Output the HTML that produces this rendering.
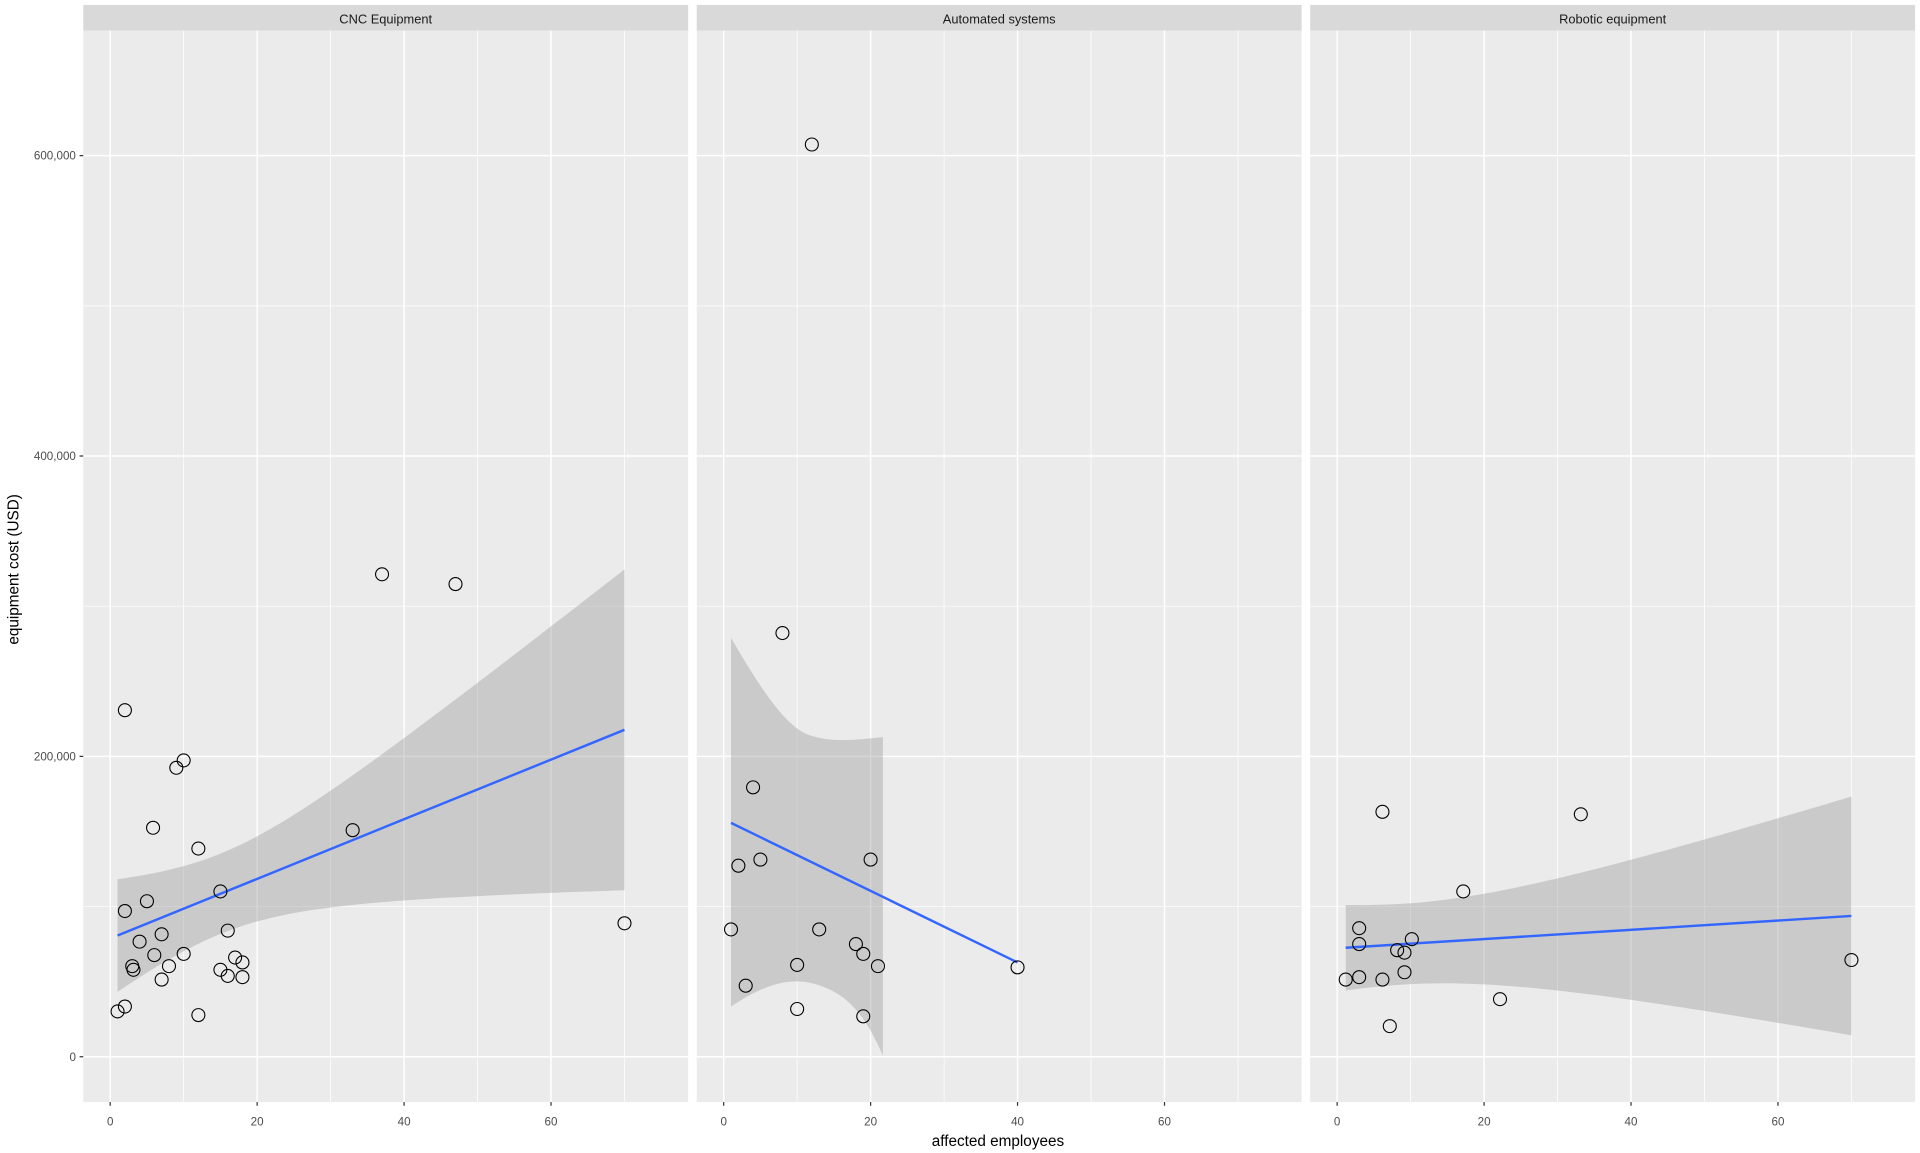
<!DOCTYPE html>
<html><head><meta charset="utf-8"><style>html,body{margin:0;padding:0;background:#fff}svg{display:block}</style></head>
<body>
<svg id="s" width="1920" height="1153" viewBox="0 0 1568 941.6" xmlns="http://www.w3.org/2000/svg" font-family="Liberation Sans, Arial, sans-serif"></svg>
<script>
const s=document.getElementById('s');let h='';
const panels=[68,569,1070],W=494;
const Y=v=>863-v/200000*245.3;
panels.forEach((px,i)=>{
 h+=`<rect x="${px}" y="25" width="${W}" height="875" fill="#EBEBEB"/>`;
 h+=`<rect x="${px}" y="4" width="${W}" height="21" fill="#D9D9D9"/>`;
 const x0=px+22;
 for(const v of [100000,300000,500000]) h+=`<line x1="${px}" x2="${px+W}" y1="${Y(v)}" y2="${Y(v)}" stroke="#fff" stroke-width="0.6"/>`;
 for(const u of [10,30,50,70]) h+=`<line x1="${x0+u*6}" x2="${x0+u*6}" y1="25" y2="900" stroke="#fff" stroke-width="0.6"/>`;
 for(const v of [0,200000,400000,600000]) h+=`<line x1="${px}" x2="${px+W}" y1="${Y(v)}" y2="${Y(v)}" stroke="#fff" stroke-width="1.2"/>`;
 for(const u of [0,20,40,60]){h+=`<line x1="${x0+u*6}" x2="${x0+u*6}" y1="25" y2="900" stroke="#fff" stroke-width="1.2"/>`;
  h+=`<line x1="${x0+u*6}" x2="${x0+u*6}" y1="900" y2="903" stroke="#333" stroke-width="1"/>`;
  h+=`<text x="${x0+u*6}" y="919" font-size="9.5" fill="#4D4D4D" text-anchor="middle">${u}</text>`;}
});
[0,200000,400000,600000].forEach(v=>{h+=`<line x1="65" x2="68" y1="${Y(v)}" y2="${Y(v)}" stroke="#333"/>`;
 h+=`<text x="62" y="${Y(v)+3.3}" font-size="9.5" fill="#4D4D4D" text-anchor="end">${v.toLocaleString('en-US')}</text>`;});
const titles=['CNC Equipment','Automated systems','Robotic equipment'];
panels.forEach((px,i)=>h+=`<text x="${px+W/2}" y="19" font-size="10.5" fill="#1A1A1A" text-anchor="middle">${titles[i]}</text>`);
h+=`<text x="815" y="936" font-size="12.5" fill="#000" text-anchor="middle">affected employees</text>`;
h+=`<text transform="translate(15,465) rotate(-90)" font-size="12.5" fill="#000" text-anchor="middle">equipment cost (USD)</text>`;
function band(xa,ya,xb,yb,xm,h0,k){let up=[],lo=[];for(let x=xa;x<=xb+0.01;x+=(xb-xa)/60){const c=ya+(yb-ya)*(x-xa)/(xb-xa);const hw=Math.sqrt(h0*h0+k*(x-xm)**2);up.push(`${x.toFixed(1)},${(c-hw).toFixed(1)}`);lo.unshift(`${x.toFixed(1)},${(c+hw).toFixed(1)}`);}
 return `<polygon points="${up.concat(lo).join(' ')}" fill="#999" fill-opacity="0.4"/><line x1="${xa}" y1="${ya}" x2="${xb}" y2="${yb}" stroke="#3366FF" stroke-width="2"/>`;}
h+=band(96,764,510,596,180,32.8,0.1477);
h+=`<path d="M597,521 C620,560 640,592 660,600 C680,607 700,604 721,602 L721,862 C705,825 690,812 670,805 C650,798 630,800 597,822 Z" fill="#999" fill-opacity="0.4"/><line x1="597" y1="672" x2="831" y2="786" stroke="#3366FF" stroke-width="2"/>`;
h+=band(1099,774,1512,748,1145,33,0.06246);
const pts=[[96,826],[102,822],[102,580],[102,744],[108,789],[109,792],[114,769],[120,736],[125,676],[126,780],[132,800],[132,763],[138,789],[144,627],[150,621],[150,779],[162,693],[162,829],[180,728],[180,792],[186,797],[186,760],[192,782],[198,786],[198,798],[288,678],[312,469],[372,477],[510,754],
[597,759],[603,707],[609,805],[615,643],[621,702],[639,517],[651,788],[651,824],[663,118],[669,759],[699,771],[705,779],[705,830],[711,702],[717,789],[831,790],
[1099,800],[1110,758],[1110,771],[1110,798],[1129,663],[1129,800],[1135,838],[1141,776],[1147,778],[1147,794],[1153,767],[1195,728],[1225,816],[1291,665],[1512,784]];
pts.forEach(p=>h+=`<circle cx="${p[0]}" cy="${p[1]}" r="5.3" fill="none" stroke="#000" stroke-width="0.9"/>`);
s.innerHTML=h;
</script>
</body></html>
